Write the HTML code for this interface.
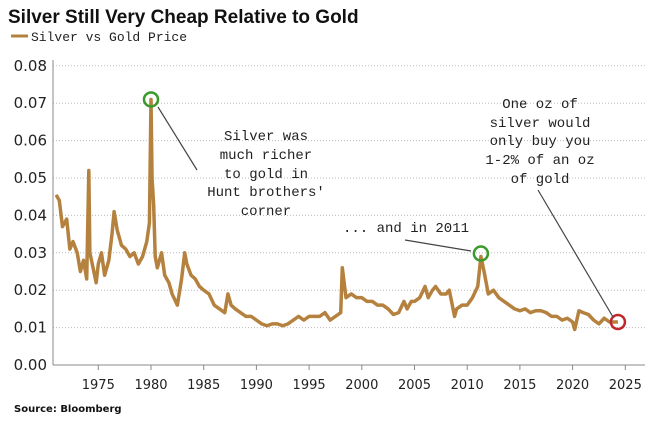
<!DOCTYPE html>
<html><head><meta charset="utf-8"><style>
body{margin:0;background:#fff;}
svg{display:block;font-family:"Liberation Mono","DejaVu Sans Mono",monospace;}
</style></head><body>
<svg id="chart" width="662" height="422">
<text x="8" y="23" font-family="Liberation Sans, sans-serif" font-weight="bold" font-size="19" fill="#111">Silver Still Very Cheap Relative to Gold</text>
<g>
<line x1="11" y1="36" x2="28" y2="36" stroke="#b5813e" stroke-width="3"/>
<text x="31" y="41" font-size="13" fill="#222">Silver vs Gold Price</text>
</g>
<g id="grid"></g><g id="axes"></g><g id="series"></g>
<g font-size="14" fill="#222" text-anchor="middle">
<line x1="158" y1="107" x2="197" y2="170" stroke="#444" stroke-width="1.2"/>
<text x="266" y="140">Silver was</text><text x="266" y="159">much richer</text><text x="266" y="178">to gold in</text><text x="266" y="196">Hunt brothers'</text><text x="266" y="215">corner</text>
<line x1="405" y1="240" x2="471" y2="251" stroke="#444" stroke-width="1.2"/>
<text x="406" y="232">... and in 2011</text>
<line x1="538" y1="190" x2="613" y2="317" stroke="#444" stroke-width="1.2"/>
<text x="540" y="108">One oz of</text><text x="540" y="127">silver would</text><text x="540" y="145">only buy you</text><text x="540" y="164">1-2% of an oz</text><text x="540" y="183">of gold</text>
</g>
<text x="14" y="412" font-family="DejaVu Sans, sans-serif" font-weight="bold" font-size="10" fill="#111">Source: Bloomberg</text>
</svg>
<script>
const years=[1971,1971.3,1971.6,1972,1972.3,1972.6,1973,1973.3,1973.6,1973.9,1974.1,1974.2,1974.5,1974.8,1975,1975.3,1975.6,1976,1976.3,1976.5,1976.8,1977.2,1977.6,1978,1978.4,1978.8,1979.2,1979.6,1979.85,1980,1980.1,1980.25,1980.4,1980.6,1981,1981.3,1981.7,1982,1982.5,1982.9,1983.2,1983.4,1983.8,1984.2,1984.6,1985,1985.5,1986,1986.5,1987,1987.3,1987.6,1988,1988.5,1989,1989.5,1990,1990.5,1991,1991.5,1992,1992.5,1993,1993.5,1994,1994.5,1995,1995.5,1996,1996.5,1997,1997.5,1998,1998.15,1998.5,1999,1999.5,2000,2000.5,2001,2001.5,2002,2002.5,2003,2003.5,2004,2004.3,2004.7,2005,2005.5,2006,2006.3,2006.7,2007,2007.5,2008,2008.3,2008.8,2009,2009.5,2010,2010.5,2011,2011.3,2011.6,2012,2012.5,2013,2013.5,2014,2014.5,2015,2015.5,2016,2016.5,2017,2017.5,2018,2018.5,2019,2019.5,2020,2020.2,2020.6,2021,2021.5,2022,2022.5,2023,2023.5,2024,2024.3];
const ratios=[0.0455,0.044,0.037,0.039,0.031,0.033,0.03,0.025,0.028,0.023,0.052,0.03,0.026,0.022,0.027,0.03,0.024,0.028,0.035,0.041,0.036,0.032,0.031,0.029,0.03,0.027,0.029,0.033,0.038,0.071,0.05,0.043,0.029,0.026,0.03,0.024,0.022,0.019,0.016,0.023,0.030,0.027,0.024,0.023,0.021,0.020,0.019,0.016,0.015,0.014,0.019,0.016,0.015,0.014,0.013,0.013,0.012,0.011,0.0105,0.011,0.011,0.0105,0.011,0.012,0.013,0.012,0.013,0.013,0.013,0.014,0.012,0.013,0.014,0.026,0.018,0.019,0.018,0.018,0.017,0.017,0.016,0.016,0.015,0.0135,0.014,0.017,0.015,0.017,0.017,0.018,0.021,0.018,0.02,0.021,0.019,0.019,0.02,0.013,0.015,0.016,0.016,0.018,0.021,0.029,0.025,0.019,0.02,0.018,0.017,0.016,0.015,0.0145,0.015,0.014,0.0145,0.0145,0.014,0.013,0.013,0.012,0.0125,0.0115,0.0095,0.0145,0.014,0.0135,0.012,0.011,0.0125,0.0115,0.0115,0.0115];
const yTicks=[0,0.01,0.02,0.03,0.04,0.05,0.06,0.07,0.08];
const xTicks=[1975,1980,1985,1990,1995,2000,2005,2010,2015,2020,2025];
const NS="http://www.w3.org/2000/svg";
const X=v=>151+(v-1980)*10.54, Y=v=>365-v*3740;
function mk(t,a,p){const e=document.createElementNS(NS,t);for(const k in a)e.setAttribute(k,a[k]);p.appendChild(e);return e;}
const grid=document.getElementById('grid'),axes=document.getElementById('axes'),ser=document.getElementById('series');
yTicks.forEach(v=>{
 if(v>0){const g=mk('line',{x1:53,x2:645,y1:Y(v),y2:Y(v),stroke:'#bbb','stroke-dasharray':'1,2'},grid);
 
 }
 const t=mk('text',{x:47,y:Y(v)+5,'text-anchor':'end','font-size':15,fill:'#222','font-family':'DejaVu Sans, sans-serif'},axes);t.textContent=v.toFixed(2);
 
 
});
mk('line',{x1:53,x2:53,y1:60,y2:365,stroke:'#888'},axes);
mk('line',{x1:53,x2:645,y1:365,y2:365,stroke:'#888'},axes);
xTicks.forEach(v=>{
 mk('line',{x1:X(v),x2:X(v),y1:365,y2:370,stroke:'#888'},axes);
 const t=mk('text',{x:X(v),y:389,'text-anchor':'middle','font-size':13,fill:'#222','font-family':'DejaVu Sans, sans-serif'},axes);t.textContent=v;
 
 
});
const p=mk('polyline',{points:years.map((y,i)=>X(y)+','+Y(ratios[i])).join(' '),fill:'none',stroke:'#b5813e','stroke-width':3.5,'stroke-linejoin':'round'},ser);


[[1980,0.071,'#3a9a2a','peak-1980-marker'],[2011.3,0.0298,'#3a9a2a','peak-2011-marker'],[2024.3,0.0115,'#c0282d','current-marker']].forEach(m=>{
 const c=mk('circle',{cx:X(m[0]),cy:Y(m[1]),r:7,fill:'none',stroke:m[2],'stroke-width':2.5},ser);
 
 
});
</script>
</body></html>
